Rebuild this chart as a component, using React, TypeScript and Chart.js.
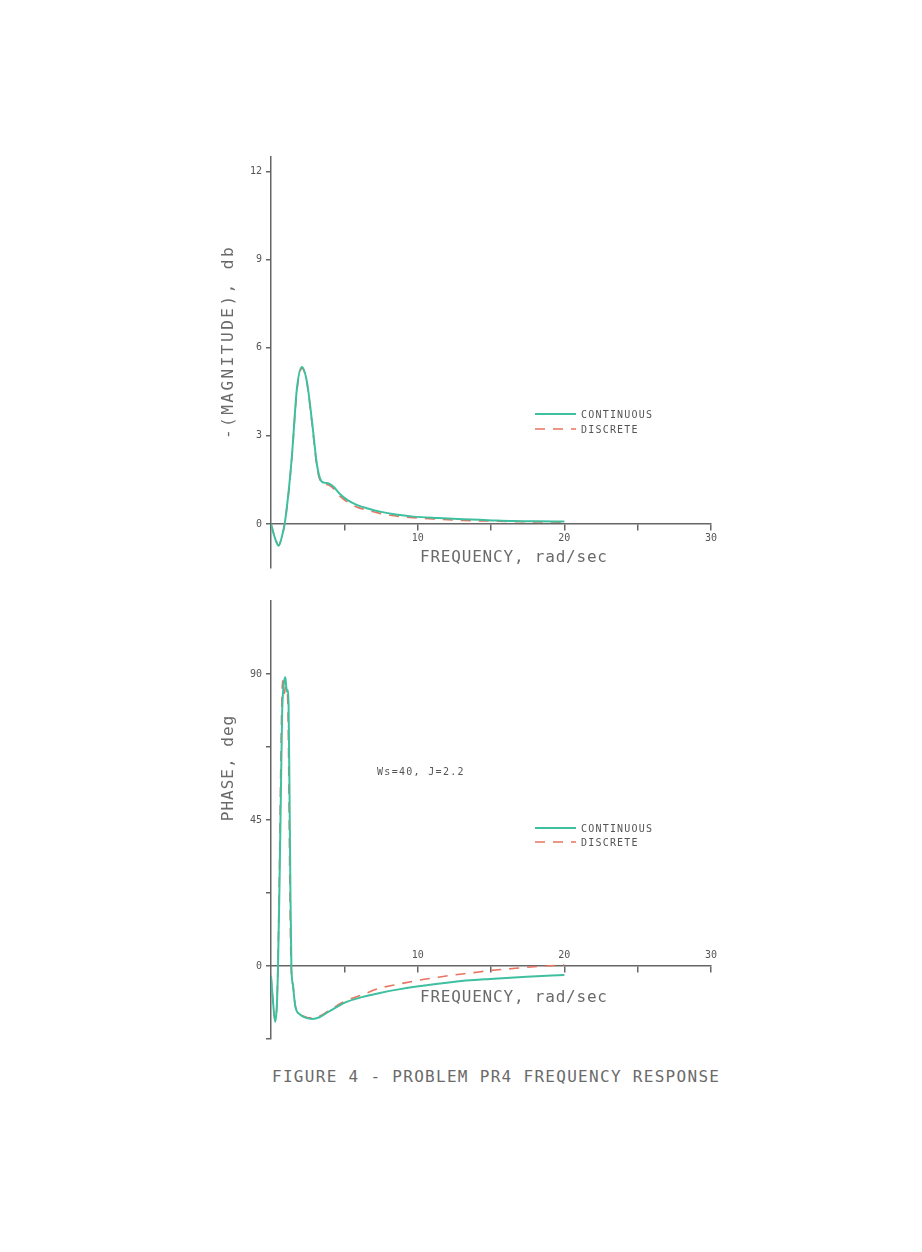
import React, { useEffect, useRef } from 'react';
import { Chart, registerables } from 'chart.js';

Chart.register(...registerables);

// ---------- data ----------
const seriesNames = ['CONTINUOUS', 'DISCRETE'];

const magFreq = [0, 0.25, 0.52, 0.75, 0.93, 1.2, 1.43, 1.77, 2.11, 2.45, 2.8, 3.14, 3.43, 3.7, 3.93, 4.27, 4.7, 5.2, 5.84, 6.66, 7.43, 8.5, 9.7, 11.4, 13.1, 14.8, 16.5, 18.2, 20];
const magContinuous = [0, -0.45, -0.74, -0.42, 0, 1.1, 2.35, 4.63, 5.35, 4.84, 3.48, 2.0, 1.46, 1.4, 1.38, 1.27, 1.02, 0.82, 0.65, 0.52, 0.42, 0.32, 0.25, 0.2, 0.16, 0.13, 0.1, 0.09, 0.08];
const magDiscrete = [0, -0.43, -0.72, -0.42, 0, 1.05, 2.3, 4.55, 5.3, 4.8, 3.4, 1.92, 1.4, 1.35, 1.33, 1.2, 0.95, 0.75, 0.58, 0.46, 0.36, 0.27, 0.21, 0.16, 0.12, 0.1, 0.08, 0.07, 0.06];

const phaseFreqContinuous = [0, 0.12, 0.29, 0.4, 0.48, 0.58, 0.68, 0.76, 0.85, 0.93, 0.98, 1.04, 1.1, 1.16, 1.2, 1.26, 1.32, 1.39, 1.5, 1.66, 2.0, 2.4, 2.8, 3.3, 3.93, 4.5, 5.07, 6.2, 7.43, 8.7, 9.93, 12.4, 14.93, 17.43, 20];
const phaseContinuous = [-3, -10, -17.2, -12, 0, 25, 55, 78, 86, 88.5, 89, 86, 84.5, 85, 80, 55, 25, 0, -6, -12.5, -15, -16, -16.3, -15.8, -14.1, -12.6, -11.2, -9.6, -8.3, -7.2, -6.3, -4.9, -4.0, -3.3, -2.8];
const phaseFreqDiscrete = [0, 0.12, 0.28, 0.4, 0.47, 0.57, 0.66, 0.74, 0.8, 0.86, 0.92, 0.98, 1.06, 1.12, 1.18, 1.24, 1.3, 1.37, 1.5, 1.66, 2.0, 2.4, 2.8, 3.3, 3.93, 4.5, 5.07, 6.2, 7.43, 8.7, 9.93, 11.2, 12.4, 13.7, 14.93, 16.2, 17.43, 18.7, 20];
const phaseDiscrete = [-3, -10, -17, -12, 0, 28, 60, 82, 88, 87, 84, 86, 85, 84, 72, 45, 18, 0, -6, -12.3, -14.8, -15.8, -16, -15.5, -13.8, -12.2, -10.8, -8.9, -6.8, -5.6, -4.5, -3.6, -2.8, -2.1, -1.4, -0.9, -0.4, 0, 0.3];

const xTicks = [5, 10, 15, 20, 25, 30];
const xLabelValues = [10, 20, 30];
const magYTicks = [0, 3, 6, 9, 12];
const magYLabelValues = [0, 3, 6, 9, 12];
const phaseYTicks = [-22.5, 0, 22.5, 45, 67.5, 90];
const phaseYLabelValues = [0, 45, 90];

// ---------- styles ----------
const TEAL = '#3ebf9f';
const RED = '#e8735f';
const AXIS = '#666666';
const TICK_TEXT = '#555555';
const TEXT = '#6a6a6a';
const MONO = '"DejaVu Sans Mono", "Liberation Mono", monospace';

const legendPlugin = {
  id: 'plotLegend',
  afterDatasetsDraw(chart: any, _args: any, opts: any) {
    const ctx = chart.ctx;
    const { x, y, gap } = opts;
    chart.data.datasets.forEach((ds: any, i: number) => {
      const yy = y + i * gap;
      ctx.save();
      ctx.strokeStyle = ds.borderColor;
      ctx.lineWidth = ds.borderWidth;
      ctx.setLineDash(ds.borderDash || []);
      ctx.beginPath();
      ctx.moveTo(x, yy);
      ctx.lineTo(x + 41, yy);
      ctx.stroke();
      ctx.setLineDash([]);
      ctx.font = '10px ' + MONO;
      ctx.fillStyle = TICK_TEXT;
      ctx.textBaseline = 'middle';
      ctx.textAlign = 'left';
      (ctx as any).letterSpacing = '1.2px';
      ctx.fillText(ds.label, x + 46, yy + 1);
      ctx.restore();
    });
  },
};

function toPoints(xs: number[], ys: number[]) {
  return xs.map((x, i) => ({ x, y: ys[i] }));
}

function makeConfig(p: {
  contX: number[]; contY: number[]; discX: number[]; discY: number[];
  yMin: number; yMax: number; yTicks: number[]; yLabels: number[];
  xLabelPadding: number; padding: any; legend: any;
}) {
  const tickFont = { family: MONO, size: 10 };
  return {
    type: 'line',
    data: {
      datasets: [
        {
          label: seriesNames[0],
          data: toPoints(p.contX, p.contY),
          borderColor: TEAL,
          borderWidth: 2,
          pointRadius: 0,
          cubicInterpolationMode: 'monotone',
          fill: false,
        },
        {
          label: seriesNames[1],
          data: toPoints(p.discX, p.discY),
          borderColor: RED,
          borderWidth: 1.6,
          borderDash: [10, 8],
          pointRadius: 0,
          cubicInterpolationMode: 'monotone',
          fill: false,
        },
      ],
    },
    options: {
      responsive: false,
      animation: false,
      devicePixelRatio: 1,
      layout: { padding: p.padding },
      plugins: {
        legend: { display: false },
        tooltip: { enabled: false },
        plotLegend: p.legend,
      },
      scales: {
        x: {
          type: 'linear',
          min: 0,
          max: 30,
          position: { y: 0 },
          afterBuildTicks: (s: any) => { s.ticks = xTicks.map((v) => ({ value: v })); },
          ticks: {
            autoSkip: false,
            maxRotation: 0,
            padding: p.xLabelPadding,
            font: tickFont,
            color: TICK_TEXT,
            callback: (v: any) => (xLabelValues.includes(Number(v)) ? String(v) : ''),
          },
          grid: { drawOnChartArea: false, tickLength: 6, color: AXIS, lineWidth: 1.5 },
          border: { color: AXIS, width: 1.5 },
        },
        y: {
          type: 'linear',
          min: p.yMin,
          max: p.yMax,
          position: 'left',
          afterBuildTicks: (s: any) => { s.ticks = p.yTicks.map((v) => ({ value: v })); },
          afterFit: (s: any) => { s.width = 30; },
          ticks: {
            autoSkip: false,
            padding: 4,
            font: tickFont,
            color: TICK_TEXT,
            callback: (v: any) => (p.yLabels.includes(Number(v)) ? String(v) : ''),
          },
          grid: { drawOnChartArea: false, tickLength: 5, color: AXIS, lineWidth: 1.5 },
          border: { color: AXIS, width: 1.5 },
        },
      },
    },
    plugins: [legendPlugin],
  };
}

function PlotCanvas(props: { left: number; top: number; width: number; height: number; config: any }) {
  const ref = useRef<HTMLCanvasElement>(null);
  useEffect(() => {
    if (!ref.current) return;
    const chart = new Chart(ref.current, props.config);
    return () => chart.destroy();
  }, []);
  return (
    <canvas
      ref={ref}
      width={props.width}
      height={props.height}
      style={{ position: 'absolute', left: props.left, top: props.top, width: props.width, height: props.height }}
    />
  );
}

function Label(props: { x: number; cy: number; text: string; size?: number; spacing?: number; color?: string }) {
  return (
    <div
      style={{
        position: 'absolute',
        left: props.x,
        top: props.cy - 10,
        height: 20,
        lineHeight: '20px',
        fontFamily: MONO,
        fontSize: props.size ?? 16,
        letterSpacing: (props.spacing ?? 0.8) + 'px',
        color: props.color ?? TEXT,
        whiteSpace: 'nowrap',
      }}
    >
      {props.text}
    </div>
  );
}

function VLabel(props: { cx: number; cy: number; text: string; size?: number; spacing?: number }) {
  return (
    <div
      style={{
        position: 'absolute',
        left: props.cx,
        top: props.cy,
        transform: 'translate(-50%, -50%) rotate(-90deg)',
        fontFamily: MONO,
        fontSize: props.size ?? 16,
        lineHeight: '20px',
        letterSpacing: (props.spacing ?? 0.8) + 'px',
        color: TEXT,
        whiteSpace: 'nowrap',
      }}
    >
      {props.text}
    </div>
  );
}

export default function App() {
  const magConfig = makeConfig({
    contX: magFreq, contY: magContinuous, discX: magFreq, discY: magDiscrete,
    yMin: -1.5, yMax: 12.5, yTicks: magYTicks, yLabels: magYLabelValues,
    xLabelPadding: 2,
    padding: { left: 51, right: 39, top: 17, bottom: 12 },
    legend: { x: 345, y: 274, gap: 15 },
  });
  const phaseConfig = makeConfig({
    contX: phaseFreqContinuous, contY: phaseContinuous, discX: phaseFreqDiscrete, discY: phaseDiscrete,
    yMin: -22.5, yMax: 112.5, yTicks: phaseYTicks, yLabels: phaseYLabelValues,
    xLabelPadding: -23,
    padding: { left: 51, right: 39, top: 16, bottom: 16 },
    legend: { x: 345, y: 243, gap: 14 },
  });
  return (
    <div style={{ position: 'absolute', left: 0, top: 0, width: 922, height: 1252, background: '#ffffff', overflow: 'hidden' }}>
      <PlotCanvas left={190} top={140} width={560} height={440} config={magConfig} />
      <PlotCanvas left={190} top={585} width={560} height={470} config={phaseConfig} />
      <VLabel cx={228} cy={342} text="-(MAGNITUDE), db" spacing={2.5} />
      <Label x={420} cy={557} text="FREQUENCY, rad/sec" />
      <VLabel cx={228} cy={768} text="PHASE, deg" spacing={1} />
      <Label x={420} cy={997} text="FREQUENCY, rad/sec" />
      <Label x={377} cy={772} text="Ws=40, J=2.2" size={10} spacing={1.3} color={TICK_TEXT} />
      <Label x={272} cy={1077} text="FIGURE 4 - PROBLEM PR4 FREQUENCY RESPONSE" spacing={1.3} />
    </div>
  );
}
